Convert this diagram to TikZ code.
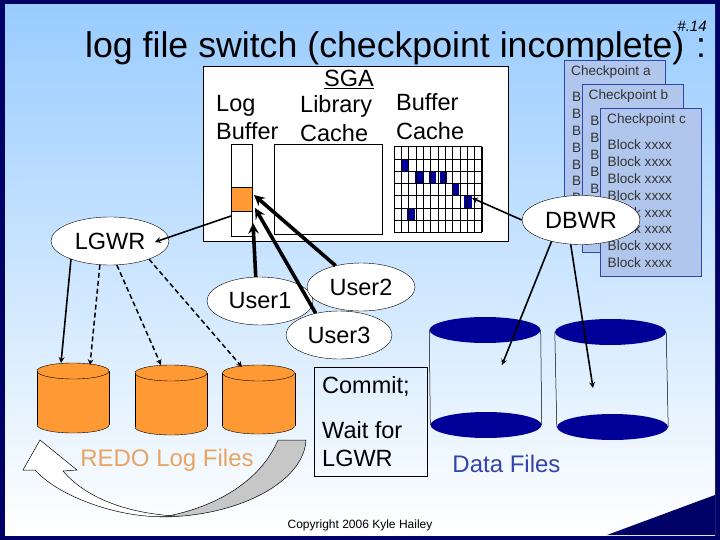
\documentclass[tikz,border=0pt]{standalone}
\usepackage{fontspec}
\setmainfont{Liberation Sans}
\usetikzlibrary{positioning,shapes.geometric}
\definecolor{navy}{HTML}{000066}
\definecolor{sky}{HTML}{99CCFF}
\definecolor{redo}{HTML}{FF9933}
\definecolor{redotext}{HTML}{E8A463}
\definecolor{cell}{HTML}{000099}
\definecolor{page}{HTML}{B0C6EC}
\definecolor{pageline}{HTML}{3344AA}
\tikzset{
  big/.style={font=\fontsize{23.5}{28.5}\selectfont,align=left,inner sep=0pt},
  proc/.style={ellipse,draw,fill=white,inner sep=0pt,minimum width=106pt,minimum height=48pt,font=\fontsize{23.5}{28}\selectfont},
  drum/.style={ellipse,draw,fill=redo,inner sep=0pt,minimum width=72pt,minimum height=16pt},
  disc/.style={ellipse,fill=cell,inner sep=0pt,minimum width=111pt,minimum height=26pt},
  page/.style={draw=pageline,fill=page,line width=0.8pt,minimum width=101pt,minimum height=168pt,inner sep=0pt},
  pagetext/.style={font=\fontsize{13.6}{16}\selectfont,text=black!80,inner sep=0pt,anchor=west},
  wire/.style={-stealth,line width=1.6pt},
  dashwire/.style={-stealth,line width=1.5pt,dash pattern=on 5pt off 3pt},
  fatwire/.style={-stealth,line width=3.6pt}
}
\begin{document}
\begin{tikzpicture}[x=1pt,y=-1pt]
  \useasboundingbox (0,0) rectangle (720,540);
  \fill[navy] (0,0) rectangle (720,540);
  \shade[top color=sky,bottom color=white,middle color=sky!50] (5,5) rectangle (715,535);
  \fill[navy] (607,535) -- (715,495) -- (715,535) -- cycle;

  \node[font=\fontsize{35.7}{40}\selectfont,inner sep=0pt,anchor=west] (title) at (85,48.5) {log file switch (checkpoint incomplete) \hspace{2pt}:};
  \node[font=\itshape\fontsize{15}{16}\selectfont,inner sep=0pt] (num) at (692,26) {\#.14};

  %sga
  \node[draw,fill=white,minimum width=305pt,minimum height=175pt,inner sep=0pt] (sga) at (355.5,153.5) {};
  \node[big] (sgatext) at (349,79) {\underline{SGA}};
  \node[big,anchor=west] (logtext) at (216,117.5) {Log\\Buffer};
  \node[big,anchor=west] (libtext) at (300,118.5) {Library\\Cache};
  \node[big,anchor=west] (buftext) at (396,116.5) {Buffer\\Cache};

  \node[draw,fill=white,minimum width=21pt,minimum height=92pt,inner sep=0pt] (logbuf) at (241.5,190) {};
  \node[draw,fill=redo,minimum width=21pt,minimum height=24pt,inner sep=0pt] (logred) at (241.5,199) {};
  \node[draw,fill=white,minimum width=108pt,minimum height=90pt,inner sep=0pt] (lib) at (328,189) {};

  %buffer cache
  \foreach \x/\y in {400.7/159,415.3/172,428.7/172,440/172,452/183.5,464.3/196,407.3/209}
    \fill[cell] (\x,\y) rectangle ++(7.3,12);
  \foreach \i in {0,...,12}
    \draw[line width=0.5pt] ({394+\i*7.33},146.7) -- ({394+\i*7.33},232.3);
  \foreach \i in {0,...,7}
    \draw[line width=0.5pt] (394,{146.7+\i*12.23}) -- (482,{146.7+\i*12.23});
  \draw[line width=1.3pt] (408.3,146.7) -- (408.3,232.3);
  \draw[line width=1.1pt] (482,146.7) -- (482,232.3);

  %checkpoints
  \foreach \n/\x/\y/\o/\t in {a/564/60/8/Checkpoint a,b/581.5/84/8.7/Checkpoint b,c/600/108/7.5/Checkpoint c}{
    \node[page,anchor=north west] (page\n) at (\x,\y) {};
    \node[pagetext] (head\n) at (\x+7,\y+12) {\t};
    \foreach \i in {0,...,7}
      \node[pagetext] (block\n\i) at (\x+\o,{\y+37+\i*16.8}) {Block xxxx};
  }

  %procs
  \node[proc,minimum width=118pt,minimum height=49pt] (dbwr) at (581,220) {DBWR};
  \node[proc,minimum width=118pt] (lgwr) at (110,241) {LGWR};
  \node[proc] (user1) at (260,301) {User1};
  \node[proc,minimum width=108pt] (user2) at (361,287) {User2};
  \node[proc] (user3) at (339,335) {User3};

  %redo logs
  \foreach \n/\x/\y/\u in {1/73/371/425,2/171/373/427,3/258.5/373/426}{
    \node[drum] (low\n) at (\x,\u) {};
    \fill[redo] (\x-36,\y) rectangle (\x+36,\u);
    \node[drum] (drum\n) at (\x,\y) {};
    \draw (drum\n.west) -- (low\n.west);
    \draw (drum\n.east) -- (low\n.east);
  }
  \node[big,font=\fontsize{24}{28}\selectfont,text=redotext] (redotext) at (167,460) {REDO Log Files};

  %switch arrow
  \draw[line width=0.5pt,fill=black!22] (278,440) -- (306,440)
    .. controls (304,482) and (238,517) .. (160,517)
    .. controls (165,517) and (250,505) .. (278,440) -- cycle;
  \draw[line width=0.5pt,fill=white] (175,516)
    .. controls (130,521) and (62,500) .. (35,470) -- (23,470) -- (40,440) -- (77,470) -- (63,471)
    .. controls (85,497) and (125,513) .. (175,516) -- cycle;

  %data files
  \foreach \n/\x/\y/\u in {1/485/330/486,2/610.5/332/612.5}{
    \node[disc] (top\n) at (\x,\y) {};
    \node[disc] (bot\n) at (\u,\y+95) {};
    \draw[line width=0.5pt] (top\n.west) -- (bot\n.west);
    \draw[line width=0.5pt] (top\n.east) -- (bot\n.east);
  }
  \node[big,font=\fontsize{24}{28}\selectfont,text=pageline] (datatext) at (506.5,464) {Data Files};

  \node[draw,big,minimum width=113pt,minimum height=109pt] (wait) at (370.5,421.5) {};
  \node[big,anchor=west] (commit) at (322,386) {Commit;};
  \node[big,anchor=west] (waittext) at (322,444) {Wait for\\LGWR};
  \node[font=\fontsize{12}{14}\selectfont,inner sep=0pt] (copy) at (360,525) {Copyright 2006 Kyle Hailey};

  %ends
  \coordinate (logout) at (231,216);
  \coordinate (lgwrin) at (155,242);
  \coordinate (c1) at (61,363);
  \coordinate (c2) at (90,365);
  \coordinate (c3) at (161,365);
  \coordinate (c4) at (242,367);
  \coordinate (t1) at (253,223);
  \coordinate (t2) at (254,195);
  \coordinate (t3) at (255,208);
  \coordinate (dirty) at (472,198);
  \coordinate (d1) at (502,365);
  \coordinate (d2) at (593,388);

  %lgwr>logs
  \draw[wire] (logout) -- (lgwrin);
  \draw[wire] (lgwr.205) -- (c1);
  \draw[dashwire] (lgwr.247) -- (c2);
  \draw[dashwire] (lgwr.286) -- (c3);
  \draw[dashwire] (lgwr.335) -- (c4);

  %users>log buffer
  \draw[fatwire] (user1.100) -- (t1);
  \draw[fatwire] (user2.140) -- (t2);
  \draw[fatwire] (user3.137) -- (t3);

  %dbwr
  \draw[wire] (dbwr.west) -- (dirty);
  \draw[wire] (dbwr.216) -- (d1);
  \draw[wire] (dbwr.247) -- (d2);
\end{tikzpicture}
\end{document}
